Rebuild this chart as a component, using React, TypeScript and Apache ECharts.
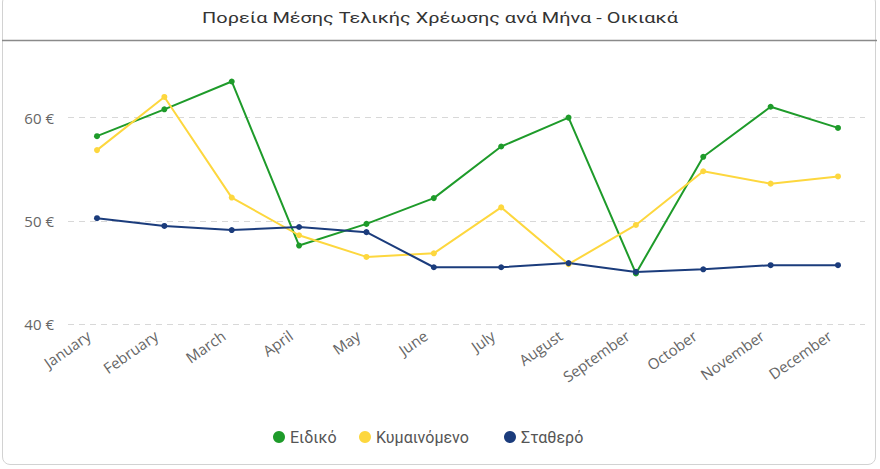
import React, { useEffect, useRef } from "react";
import * as echarts from "echarts";

const months = ["January","February","March","April","May","June","July","August","September","October","November","December"];
const eidiko = [58.2, 60.8, 63.5, 47.6, 49.7, 52.2, 57.2, 60.0, 44.9, 56.2, 61.05, 59.0];
const kymainomeno = [56.85, 62.0, 52.25, 48.6, 46.5, 46.85, 51.3, 45.8, 49.6, 54.8, 53.6, 54.3];
const statero = [50.25, 49.5, 49.1, 49.4, 48.9, 45.5, 45.5, 45.9, 45.05, 45.3, 45.7, 45.7];
const seriesNames = ["Ειδικό", "Κυμαινόμενο", "Σταθερό"];
const colors = ["#1e9b2a", "#fdd73e", "#1b3c7c"];
const yMin = 40;
const yMax = 65;
const yStep = 5;
const titleText = "Πορεία Μέσης Τελικής Χρέωσης ανά Μήνα - Οικιακά";

export default function App() {
  const ref = useRef<HTMLDivElement>(null);
  useEffect(() => {
    document.body.style.margin = "0";
    const chart = echarts.init(ref.current!, undefined, { renderer: "svg" });
    const top = 66;
    const bottom = 145;
    const data = [eidiko, kymainomeno, statero];
    const legendLefts = [273, 359, 504];
    chart.setOption({
      animation: false,
      graphic: [
        {
          type: "text",
          x: 440,
          y: 18,
          scaleX: 1.33,
          style: {
            text: titleText,
            align: "center",
            verticalAlign: "middle",
            fontFamily: "Roboto",
            fontSize: 15,
            fill: "#333",
          },
        },
        { type: "line", shape: { x1: 2, y1: 40.5, x2: 877, y2: 40.5 }, style: { stroke: "#8a8a8a", lineWidth: 1.5 } },
      ],
      legend: seriesNames.map((n, i) => ({
        data: [n],
        top: 429,
        left: legendLefts[i],
        icon: "circle",
        itemWidth: 12,
        itemHeight: 12,
        padding: 0,
        textStyle: { fontFamily: "Roboto", fontSize: 16, color: "#555" },
      })),
      grid: [
        { left: 68, right: 15, top, bottom },
        { left: 97, right: 42, top, bottom },
      ],
      xAxis: [
        { type: "category", gridIndex: 0, data: months, show: false },
        {
          type: "category",
          gridIndex: 1,
          data: months,
          boundaryGap: false,
          axisLine: { show: false },
          axisTick: { show: false },
          axisLabel: {
            rotate: 35,
            margin: 4,
            padding: [0, 10, 0, 0],
            fontFamily: "Open Sans",
            fontSize: 15,
            color: "#666",
            interval: 0,
          },
        },
      ],
      yAxis: [
        {
          type: "value",
          gridIndex: 0,
          min: yMin,
          max: yMax,
          interval: yStep,
          axisLine: { show: false },
          axisTick: { show: false },
          axisLabel: {
            margin: 14,
            fontFamily: "Open Sans",
            fontSize: 15,
            color: "#666",
            formatter: (v: number) => (v % 10 === 0 ? `${v} €` : ""),
          },
          splitLine: { lineStyle: { color: ["#d8d8d8", "rgba(0,0,0,0)"], type: [6, 5], width: 1 } },
        },
        {
          type: "value",
          gridIndex: 1,
          min: yMin,
          max: yMax,
          interval: yStep,
          show: false,
          splitLine: { show: false },
        },
      ],
      series: data.map((d, i) => ({
        name: seriesNames[i],
        type: "line",
        xAxisIndex: 1,
        yAxisIndex: 1,
        data: d,
        symbol: "circle",
        symbolSize: 6,
        itemStyle: { color: colors[i] },
        lineStyle: { color: colors[i], width: 2 },
      })),
    });
    return () => chart.dispose();
  }, []);
  return (
    <div
      style={{
        position: "fixed",
        left: 2,
        top: -6,
        width: 874,
        height: 471,
        border: "1px solid #d2d2d2",
        borderRadius: 8,
        background: "#fff",
        boxSizing: "border-box",
      }}
    >
      <div ref={ref} style={{ position: "absolute", left: -3, top: 5, width: 880, height: 469 }} />
    </div>
  );
}
